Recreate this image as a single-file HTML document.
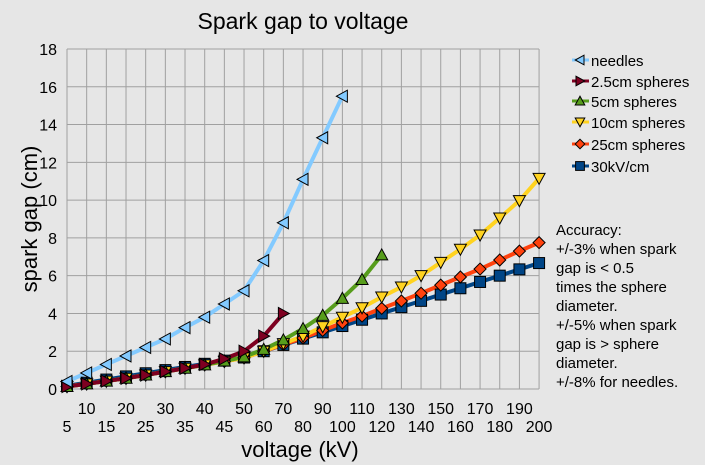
<!DOCTYPE html>
<html><head><meta charset="utf-8"><style>
html,body{margin:0;padding:0;background:#e6e6e6;}
svg{display:block;font-family:"Liberation Sans",sans-serif;}
</style></head><body>
<svg id="s" width="705" height="465" xmlns="http://www.w3.org/2000/svg">
<rect width="705" height="465" fill="#e6e6e6"/>
<text x="303" y="29" font-size="23" text-anchor="middle" fill="#000">Spark gap to voltage</text>
<text transform="translate(37,219) rotate(-90)" font-size="22" text-anchor="middle" fill="#000">spark gap (cm)</text>
<text x="300" y="457" font-size="22" text-anchor="middle" fill="#000">voltage (kV)</text>
<g id="g"></g>
<g font-size="15" fill="#000">
<text x="556" y="235">Accuracy:</text>
<text x="556" y="254">+/-3% when spark</text>
<text x="556" y="273">gap is &lt; 0.5</text>
<text x="556" y="292">times the sphere</text>
<text x="556" y="311">diameter.</text>
<text x="556" y="330">+/-5% when spark</text>
<text x="556" y="349">gap is &gt; sphere</text>
<text x="556" y="368">diameter.</text>
<text x="556" y="387">+/-8% for needles.</text>
</g>
</svg>
<script>
var g=document.getElementById('g'),h='';
var X0=67,DX=19.67,Y0=389,SY=18.89;
function px(i){return X0+DX*i}function py(v){return Y0-SY*v}
for(var i=0;i<25;i++)h+='<line x1="'+px(i)+'" y1="49" x2="'+px(i)+'" y2="389" stroke="#a0a0a0" stroke-width="1"/>';
for(var v=0;v<=18;v+=2){h+='<line x1="67" y1="'+py(v)+'" x2="539" y2="'+py(v)+'" stroke="#a0a0a0" stroke-width="1"/>';
h+='<text x="57" y="'+(py(v)+6)+'" font-size="16" text-anchor="end">'+v+'</text>';}
var cats=[5,10,15,20,25,30,35,40,45,50,60,70,80,90,100,110,120,130,140,150,160,170,180,190,200];
for(var i=0;i<25;i++)h+='<text x="'+px(i)+'" y="'+(i%2?414:432)+'" font-size="16" text-anchor="middle">'+cats[i]+'</text>';
var kv=cats.map(function(c){return c/30});
var S=[
['#004586','sq',kv],
['#ff420e','di',[.13,.27,.42,.57,.74,.92,1.1,1.28,1.46,1.65,2.0,2.35,2.7,3.1,3.5,3.86,4.27,4.66,5.07,5.5,5.93,6.35,6.83,7.3,7.75]],
['#ffd320','dn',[.13,.27,.42,.57,.74,.92,1.1,1.28,1.46,1.65,2.0,2.4,2.8,3.3,3.8,4.3,4.87,5.4,6.0,6.7,7.4,8.15,9.05,9.97,11.15]],
['#579d1c','up',[.13,.27,.42,.57,.74,.92,1.1,1.28,1.48,1.7,2.1,2.6,3.2,3.9,4.8,5.8,7.1]],
['#7e0021','rt',[.13,.27,.42,.57,.74,.92,1.1,1.3,1.6,2.0,2.8,4.0]],
['#83caff','lt',[.4,.85,1.3,1.75,2.2,2.65,3.25,3.8,4.5,5.2,6.8,8.8,11.1,13.3,15.5]]];
function mk(t,x,y,c,r){r=r||1;var s=' fill="'+c+'" stroke="#000" stroke-width="1"';
if(t=='sq')return '<rect x="'+(x-5.5*r)+'" y="'+(y-5.5*r)+'" width="'+11*r+'" height="'+11*r+'"'+s+'/>';
var p;if(t=='di')p=[[0,-6],[6,0],[0,6],[-6,0]];
else if(t=='dn')p=[[-6,-5],[6,-5],[0,6]];else if(t=='up')p=[[-6,5],[6,5],[0,-6]];
else if(t=='rt')p=[[-5,-6],[-5,6],[6,0]];else p=[[5,-6],[5,6],[-6,0]];
return '<polygon points="'+p.map(function(q){return (x+q[0]*r)+','+(y+q[1]*r)}).join(' ')+'"'+s+'/>';}
S.forEach(function(s){var pts=s[2].map(function(v,i){return px(i)+','+py(v)}).join(' ');
h+='<polyline points="'+pts+'" fill="none" stroke="'+s[0]+'" stroke-width="4" stroke-linejoin="round"/>';});
S.forEach(function(s){s[2].forEach(function(v,i){h+=mk(s[1],px(i),py(v),s[0]);});});
var L=[['#83caff','lt','needles'],['#7e0021','rt','2.5cm spheres'],['#579d1c','up','5cm spheres'],['#ffd320','dn','10cm spheres'],['#ff420e','di','25cm spheres'],['#004586','sq','30kV/cm']];
var ly=[60,81,101,122,144,166];
L.forEach(function(l,k){var y=ly[k];h+='<line x1="572" y1="'+y+'" x2="589" y2="'+y+'" stroke="'+l[0]+'" stroke-width="3"/>'+mk(l[1],580,y,l[0],0.8)+'<text x="591" y="'+(y+6)+'" font-size="15">'+l[2]+'</text>';});
g.innerHTML=h;
</script>
</body></html>
